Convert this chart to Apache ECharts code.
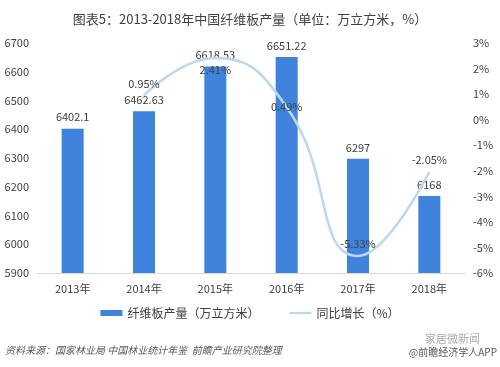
<!DOCTYPE html>
<html><head><meta charset="utf-8">
<script src="https://cdn.jsdelivr.net/npm/echarts@6/dist/echarts.min.js"></script>
<style>html,body{margin:0;padding:0;background:#fff}#c{width:500px;height:367px}</style>
</head><body><div id="c"></div>
<script>
const categories = ['2013年','2014年','2015年','2016年','2017年','2018年'];
const output = [6402.1, 6462.63, 6618.53, 6651.22, 6297, 6168];
const growth = [null, 0.95, 2.41, 0.49, -5.33, -2.05];
const growthLabelPos = ['top','top','bottom','inside','top','top'];

const chart = echarts.init(document.getElementById('c'));
const font = '"Microsoft YaHei","Noto Sans CJK SC",sans-serif';
chart.setOption({
  animation:false,
  textStyle:{fontFamily:font},
  title:{text:'图表5：2013-2018年中国纤维板产量（单位：万立方米，%）',left:'center',top:8,
    textStyle:{fontSize:13,fontWeight:'normal',color:'#404040',fontFamily:font}},
  grid:{left:37,right:35,top:43,bottom:94},
  legend:{bottom:43,left:'center',itemGap:30,itemWidth:22,itemHeight:6,
    textStyle:{fontSize:12,color:'#404040'},
    data:[{name:'纤维板产量（万立方米）',icon:'rect'},
          {name:'同比增长（%）',icon:'path://M0,0 L10,0 L10,1 L0,1 Z',itemStyle:{color:'#bdd7ee',opacity:1}}]},
  xAxis:{type:'category',data:categories,axisTick:{show:false},
    axisLine:{onZero:false,lineStyle:{color:'#d9d9d9'}},axisLabel:{color:'#404040',fontSize:11,margin:10}},
  yAxis:[
    {type:'value',min:5900,max:6700,interval:100,splitLine:{show:false},
      axisLabel:{color:'#404040',fontSize:11,formatter:v=>String(v)},axisLine:{show:false},axisTick:{show:false}},
    {type:'value',min:-6,max:3,interval:1,splitLine:{show:false},
      axisLabel:{color:'#404040',fontSize:11,formatter:'{value}%'},axisLine:{show:false},axisTick:{show:false}}
  ],
  series:[
    {name:'纤维板产量（万立方米）',type:'bar',data:output,barWidth:22,z:2,
      itemStyle:{color:'#3f83dc'},
      label:{show:true,position:'top',color:'#404040',fontSize:11,distance:6}},
    {name:'同比增长（%）',type:'line',yAxisIndex:1,smooth:0.5,symbol:'circle',symbolSize:1,showSymbol:true,z:3,
      data:growth.map((v,i)=>({value:v,label:{position:growthLabelPos[i]}})),
      lineStyle:{color:'#bdd7ee',width:2.5},itemStyle:{color:'#bdd7ee'},
      label:{show:true,color:'#404040',fontSize:11,distance:6,formatter:p=>p.value==null?'':p.value.toFixed(2)+'%'}}
  ],
  graphic:[
    {type:'text',left:5,top:345,style:{text:'资料来源：国家林业局 中国林业统计年鉴  前瞻产业研究院整理',fill:'#595959',fontSize:10,fontStyle:'italic',fontFamily:font}},
    {type:'text',right:3,top:347,style:{text:'@前瞻经济学人APP',fill:'#595959',fontSize:10,fontFamily:font}},
    {type:'text',left:425,top:333,style:{text:'家居微新闻',fill:'#aaaaaa',fontSize:11,fontFamily:font}}
  ]
});
</script></body></html>
